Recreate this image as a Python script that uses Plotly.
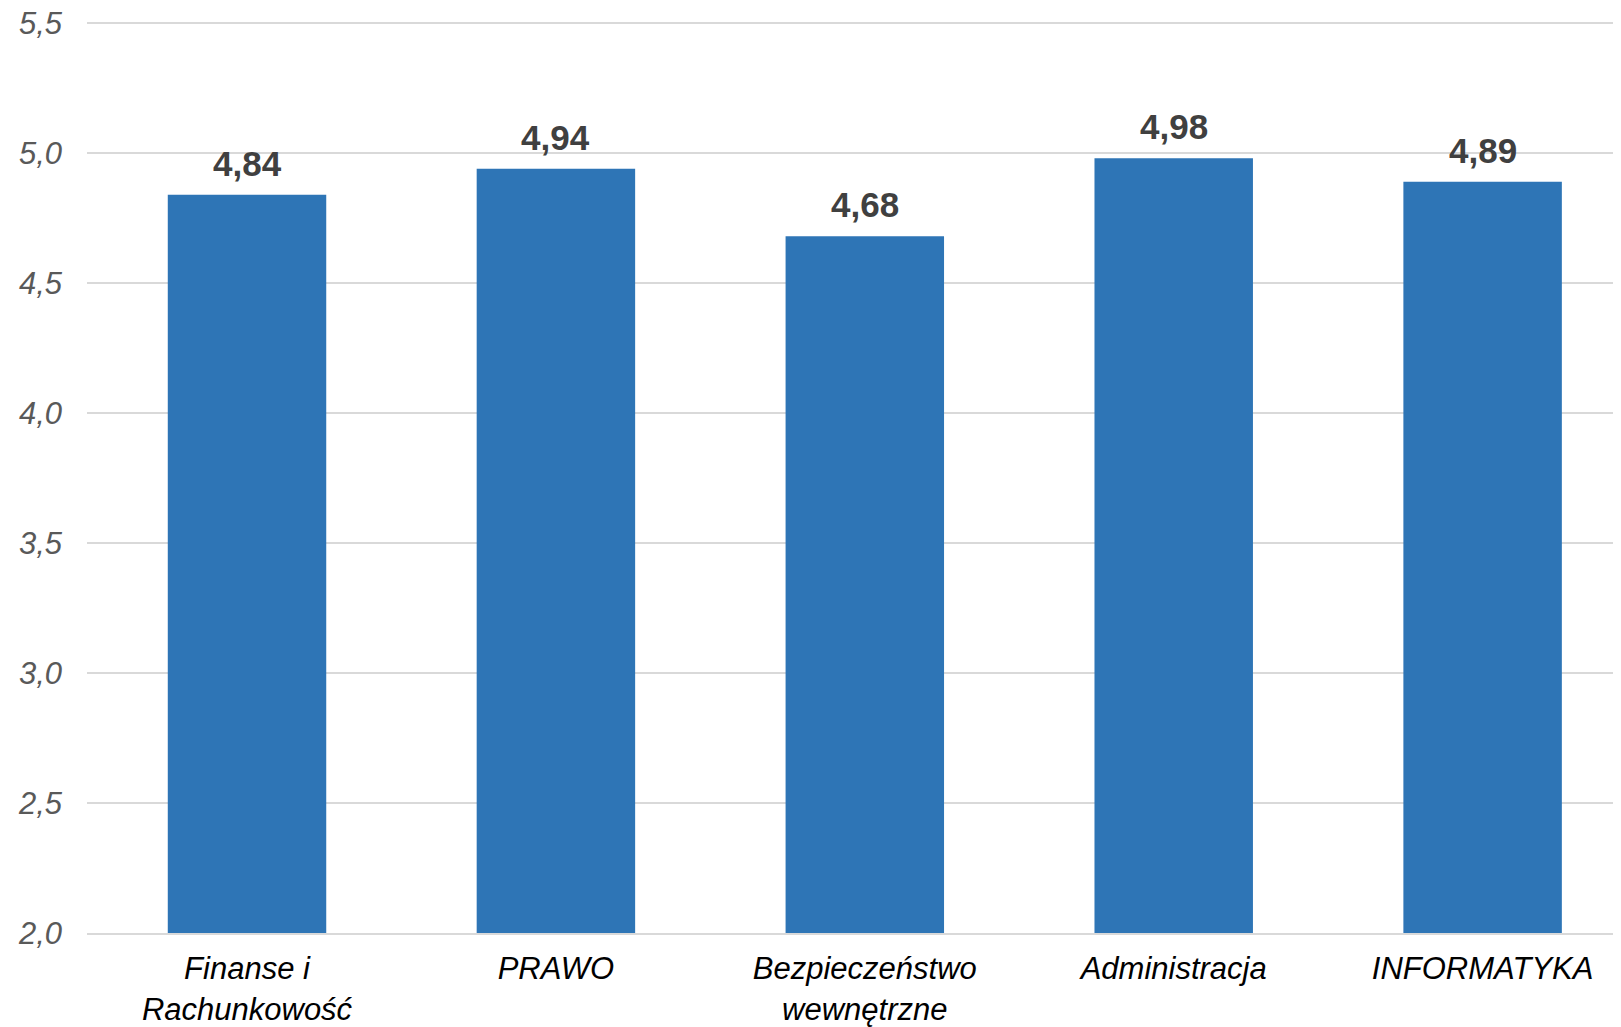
import plotly.graph_objects as go

categories = ["Finanse i<br>Rachunkowość", "PRAWO", "Bezpieczeństwo<br>wewnętrzne", "Administracja", "INFORMATYKA"]
values = [4.84, 4.94, 4.68, 4.98, 4.89]
value_labels = ["4,84", "4,94", "4,68", "4,98", "4,89"]
y_ticks = [2.0, 2.5, 3.0, 3.5, 4.0, 4.5, 5.0, 5.5]
y_tick_labels = ["2,0", "2,5", "3,0", "3,5", "4,0", "4,5", "5,0", "5,5"]

x_idx = list(range(len(categories)))

fig = go.Figure()
fig.add_trace(go.Bar(
    x=x_idx, y=values, width=0.513,
    marker=dict(color="#2e75b6", line=dict(width=0)),
    hoverinfo="skip",
))

for xi, v, lab in zip(x_idx, values, value_labels):
    fig.add_annotation(x=xi, y=v, text="<b>" + lab + "</b>", showarrow=False,
                       yanchor="bottom", yshift=10,
                       font=dict(family="Liberation Sans, Arial", size=35, color="#404040"))

# page body has an 8px margin, so the figure is 8px smaller than the window
fig.update_layout(
    width=1613, height=1019,
    margin=dict(l=79, r=0, t=10, b=94, autoexpand=False),
    paper_bgcolor="white", plot_bgcolor="white",
    showlegend=False,
    font=dict(family="Liberation Sans, Arial"),
    xaxis=dict(
        range=[-0.518, 4.448], automargin=False,
        tickmode="array", tickvals=x_idx, ticktext=categories,
        tickfont=dict(family="Liberation Sans, Arial", size=31, color="#000000", style="italic"),
        showgrid=False, zeroline=False,
        showline=True, linecolor="#d9d9d9", linewidth=2,
        ticks="", ticklabelstandoff=7, ticklabeloverflow="allow",
    ),
    yaxis=dict(
        range=[2.0, 5.52], automargin=False,
        tickmode="array", tickvals=y_ticks, ticktext=y_tick_labels,
        tickfont=dict(family="Liberation Sans, Arial", size=31, color="#595959", style="italic"),
        showgrid=True, gridcolor="#d9d9d9", gridwidth=2,
        zeroline=False, showline=False, ticks="", ticklabelstandoff=24,
        ticklabeloverflow="allow",
    ),
)

fig.write_html("out.html")
